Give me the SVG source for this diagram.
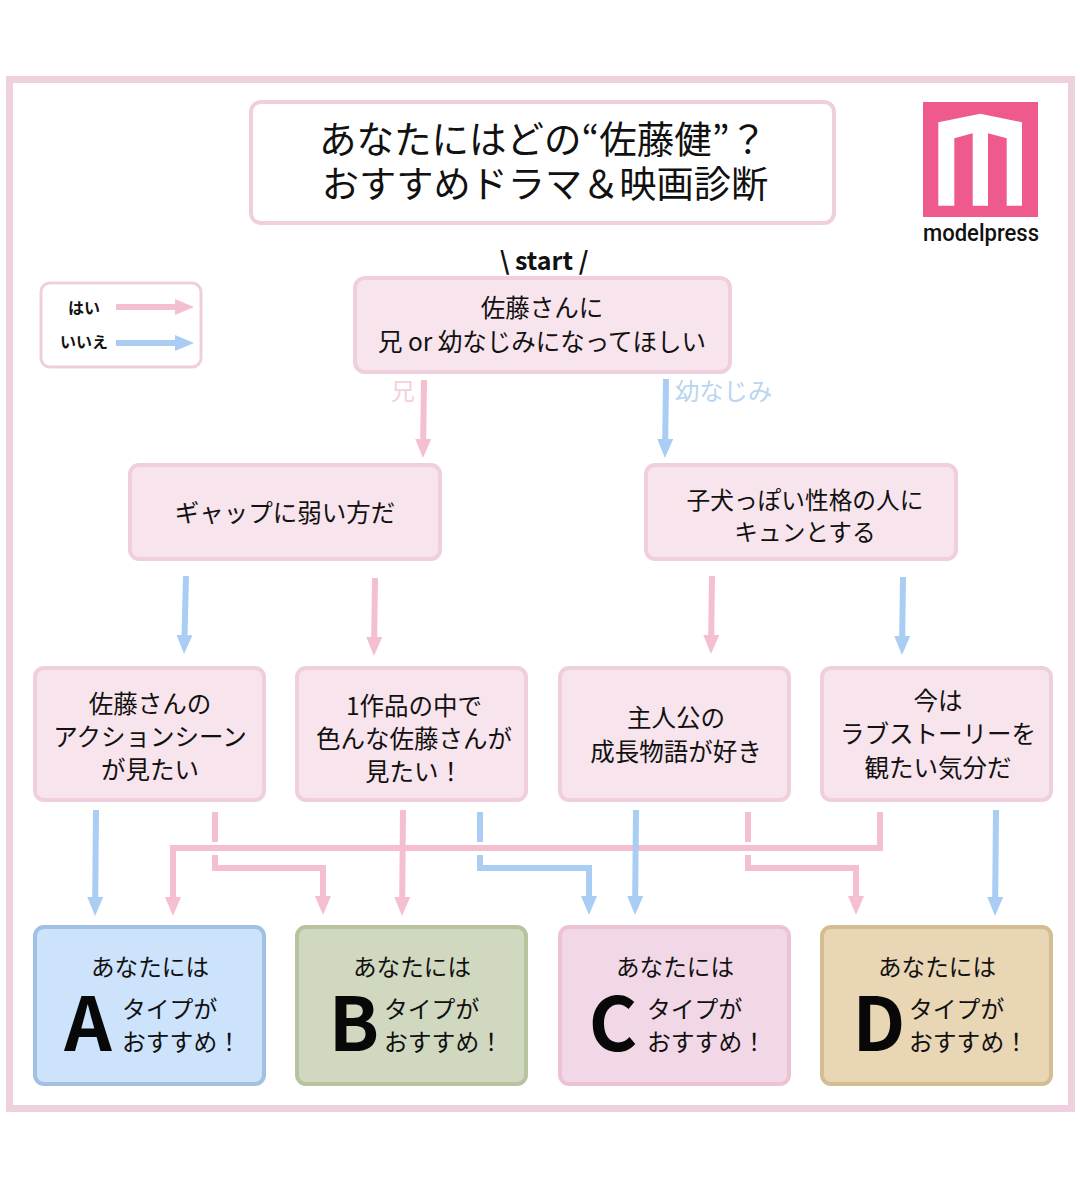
<svg xmlns="http://www.w3.org/2000/svg" width="1080" height="1180" viewBox="0 0 1080 1180">
<style>
text{font-family:"Noto Sans CJK JP","Noto Sans",sans-serif;fill:#111;text-anchor:middle}
.n{fill:#f8e4ec;stroke:#efcfdd;stroke-width:4}
.t{font-size:24.5px}
.s{font-size:23.6px}
.l{text-anchor:start;font-size:23.8px}
.big{font-size:74px;font-weight:700;fill:#080808}
.p,.b{fill:none;stroke-width:6}
.p{stroke:#f4bfcf}
.b{stroke:#a9cdf3}
.pe{marker-end:url(#hp)}
.be{marker-end:url(#hb)}
</style>
<defs>
<marker id="hp" markerUnits="userSpaceOnUse" markerWidth="20" markerHeight="16" refX="1" refY="8" orient="auto"><path d="M0 0L19 8L0 16z" fill="#f4bfcf"/></marker>
<marker id="hb" markerUnits="userSpaceOnUse" markerWidth="20" markerHeight="16" refX="1" refY="8" orient="auto"><path d="M0 0L19 8L0 16z" fill="#a9cdf3"/></marker>
</defs>
<rect width="1080" height="1180" fill="#fff"/>
<rect id="frame" x="9.5" y="79.5" width="1062" height="1029" fill="#fff" stroke="#eed0de" stroke-width="7"/>
<g id="title"><rect x="251" y="102" width="583" height="121" rx="10" fill="#fff" stroke="#efcfdd" stroke-width="4"/>
<text x="543" y="153" font-size="37.5">あなたにはどの“佐藤健”？</text>
<text x="545" y="198" font-size="37.2">おすすめドラマ＆映画診断</text></g>
<g id="logo"><rect x="923" y="102" width="115" height="115" fill="#ef5a8e"/>
<path d="M938.3 122.3L980.3 113.7L1022 122.3V205.7H1006.7V138.3L988 133.3V205.7H972.7V133.3L954.3 138.3V205.7H938.3z" fill="#fff"/>
<text x="981" y="241" font-size="24" font-weight="500" style="font-family:'Roboto',sans-serif" textLength="116" lengthAdjust="spacingAndGlyphs">modelpress</text></g>
<g id="legend"><rect x="41" y="283" width="160" height="84" rx="9" fill="#fff" stroke="#efcfdd" stroke-width="3"/>
<text x="84" y="314" font-size="16" font-weight="700">はい</text>
<text x="84" y="348" font-size="16" font-weight="700">いいえ</text>
<path class="p pe" d="M116 307H176"/>
<path class="b be" d="M116 343H176"/></g>
<text id="start" x="544" y="270" font-size="25" font-weight="700">\ start /</text>
<g id="connectors">
<path class="p pe" d="M880 812V848H173V898"/>
<path class="p" d="M215 812V842"/>
<path class="p pe" d="M215 855V868H323V897"/>
<path class="p pe" d="M424 380L423.2 440"/>
<path class="b be" d="M666 379L665.2 440"/>
<path class="b be" d="M186 576L184.5 636"/>
<path class="p pe" d="M375 578L374.2 638"/>
<path class="p pe" d="M712 576L711.2 636"/>
<path class="b be" d="M903 577L902.2 637"/>
<path class="b be" d="M96 810L95.2 898"/>
<path class="p pe" d="M403 810L402.2 898"/>
<path class="b" d="M480 812V842"/>
<path class="b be" d="M480 855V868H589V897"/>
<path class="b be" d="M636 810L635.2 897"/>
<path class="p" d="M748 812V842"/>
<path class="p pe" d="M748 855V868H856V897"/>
<path class="b be" d="M996 810L995.2 898"/>
</g>
<text x="403" y="400" font-size="24" style="fill:#f6d0dc">兄</text>
<text x="675" y="400" font-size="24.3" style="fill:#b9d5f0;text-anchor:start">幼なじみ</text>
<g id="q0"><rect class="n" x="355" y="278" width="375" height="94" rx="10"/><text class="t" x="542" y="317">佐藤さんに</text><text class="t" x="542" y="351">兄 or 幼なじみになってほしい</text></g>
<g id="q1"><rect class="n" x="130" y="465" width="310" height="94" rx="9"/><text class="t" x="285" y="522">ギャップに弱い方だ</text></g>
<g id="q2"><rect class="n" x="646" y="465" width="310" height="94" rx="9"/><text x="805" y="509" font-size="23.7">子犬っぽい性格の人に</text><text x="805" y="541" font-size="23.7">キュンとする</text></g>
<g id="q3"><rect class="n" x="35" y="668" width="229" height="132" rx="9"/><text class="t" x="150" y="713">佐藤さんの</text><text class="t" x="150" y="746">アクションシーン</text><text class="t" x="150" y="779">が見たい</text></g>
<g id="q4"><rect class="n" x="297" y="668" width="229" height="132" rx="9"/><text class="t" x="414" y="715">1作品の中で</text><text class="t" x="414" y="748">色んな佐藤さんが</text><text class="t" x="414" y="781">見たい！</text></g>
<g id="q5"><rect class="n" x="560" y="668" width="229" height="132" rx="9"/><text class="t" x="676" y="727">主人公の</text><text class="t" x="676" y="761">成長物語が好き</text></g>
<g id="q6"><rect class="n" x="822" y="668" width="229" height="132" rx="9"/><text class="t" x="938" y="710">今は</text><text class="t" x="938" y="743">ラブストーリーを</text><text class="t" x="938" y="777">観たい気分だ</text></g>
<g id="rA"><rect x="35" y="927" width="229" height="157" rx="9" fill="#cde2fb" stroke="#a0c0e4" stroke-width="4"/><text class="s" x="150" y="976">あなたには</text><text class="big" x="88" y="1051">A</text><text class="l" x="122" y="1018">タイプが</text><text class="l" x="122" y="1051">おすすめ！</text></g>
<g id="rB"><rect x="297" y="927" width="229" height="157" rx="9" fill="#d0d8c0" stroke="#b7c39f" stroke-width="4"/><text class="s" x="412" y="976">あなたには</text><text class="big" x="354" y="1051">B</text><text class="l" x="384" y="1018">タイプが</text><text class="l" x="384" y="1051">おすすめ！</text></g>
<g id="rC"><rect x="560" y="927" width="229" height="157" rx="9" fill="#f2d8e6" stroke="#ecc3d5" stroke-width="4"/><text class="s" x="675" y="976">あなたには</text><text class="big" x="613" y="1051">C</text><text class="l" x="647" y="1018">タイプが</text><text class="l" x="647" y="1051">おすすめ！</text></g>
<g id="rD"><rect x="822" y="927" width="229" height="157" rx="9" fill="#e9d6b5" stroke="#d4bd92" stroke-width="4"/><text class="s" x="937" y="976">あなたには</text><text class="big" x="879" y="1051">D</text><text class="l" x="909" y="1018">タイプが</text><text class="l" x="909" y="1051">おすすめ！</text></g>
</svg>
